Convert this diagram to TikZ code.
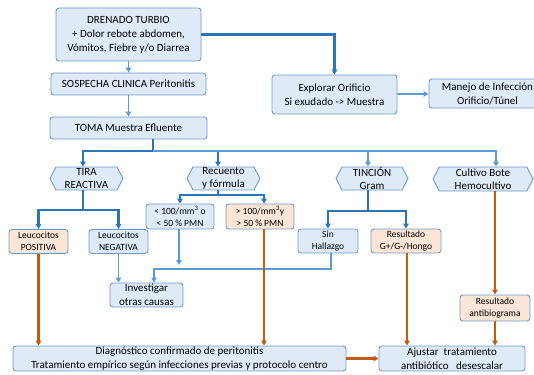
\documentclass[tikz,border=0pt]{standalone}
\usepackage{fontspec}
\setmainfont{Carlito}
\usetikzlibrary{arrows.meta,shapes.symbols}
\definecolor{boxfill}{HTML}{DEEBF7}
\definecolor{orfill}{HTML}{FBE5D6}
\definecolor{boxline}{HTML}{6F9BCB}
\definecolor{dkblue}{HTML}{2E75B6}
\definecolor{ltblue}{HTML}{5B9BD5}
\definecolor{orline}{HTML}{C55A11}
\begin{document}
\begin{tikzpicture}[x=1pt,y=-1pt,
  box/.style={draw=boxline, fill=boxfill, rounded corners=3pt, line width=0.9pt, align=center, inner sep=0pt, font=\fontsize{11}{14}\selectfont},
  sbox/.style={box, font=\fontsize{9.5}{12}\selectfont},
  obox/.style={sbox, fill=orfill},
  hex/.style={shape=signal, signal to=west and east, signal pointer angle=125, draw=boxline, fill=boxfill, line width=0.9pt, align=center, inner sep=0pt, font=\fontsize{11}{12.5}\selectfont},
  tip/.style={-{Triangle[length=5pt,width=5.5pt]}},
  dk/.style={draw=dkblue, line width=2.4pt},
  lt/.style={draw=ltblue, line width=1.8pt},
  orarr/.style={draw=orline, line width=2.3pt, tip}
]
\useasboundingbox (0,0) rectangle (534,374);
\begin{scope}
\clip (0,0) rectangle (534,374);
% top nodes
\node[box, minimum width=145, minimum height=53] (drenado) at (128.5,34.5) {DRENADO TURBIO\\+ Dolor rebote abdomen,\\Vómitos, Fiebre y/o Diarrea};
\node[box, minimum width=155, minimum height=22] (sospecha) at (128.5,84) {SOSPECHA CLINICA Peritonitis};
\node[box, minimum width=157, minimum height=22] (toma) at (128.5,128) {TOMA Muestra Efluente};
\node[box, minimum width=125, minimum height=39] (explorar) at (334.5,94.5) {Explorar Orificio\\Si exudado -> Muestra};
\node[box, minimum width=117, minimum height=29] (manejo) at (487.5,93.5) {Manejo de Infección\\Orificio/Túnel};
% hexagons
\node[hex, minimum width=73, minimum height=23] (tira) at (86.5,178.5) {TIRA\\REACTIVA};
\node[hex, minimum width=73, minimum height=23] (recuento) at (223.5,178.5) {Recuento\\y fórmula};
\node[hex, minimum width=72, minimum height=23] (tincion) at (372,178.5) {TINCIÓN\\Gram};
\node[hex, minimum width=100, minimum height=24] (cultivo) at (483,179) {Cultivo Bote\\Hemocultivo};
% second level
\node[obox, minimum width=59, minimum height=24] (positiva) at (38.5,241.5) {Leucocitos\\POSITIVA};
\node[sbox, minimum width=59, minimum height=24] (negativa) at (118.5,241.5) {Leucocitos\\NEGATIVA};
\node[sbox, minimum width=68, minimum height=25] (menor) at (180,216.5) {< 100/mm\textsuperscript{3} o\\< 50 \% PMN};
\node[obox, minimum width=68, minimum height=25] (mayor) at (260,216.5) {> 100/mm\textsuperscript{3}y\\> 50 \% PMN};
\node[sbox, minimum width=60, minimum height=24] (sin) at (328,241) {Sin\\Hallazgo};
\node[obox, minimum width=70, minimum height=24] (resultado) at (406,241) {Resultado\\G+/G-/Hongo};
\node[box, minimum width=73, minimum height=24] (investigar) at (146.5,295) {Investigar\\otras causas};
\node[obox, minimum width=70, minimum height=26] (antibio) at (495,308) {Resultado\\antibiograma};
\node[box, minimum width=333, minimum height=25] (diag) at (179.5,358.5) {Diagnóstico confirmado de peritonitis\\Tratamiento empírico según infecciones previas y protocolo centro};
\node[box, minimum width=146, minimum height=25] (ajustar) at (452,358.5) {Ajustar~ tratamiento\\antibiótico~~ desescalar};
% coordinates
\coordinate (bus) at (153,151);
\coordinate (tirab) at (83,210);
\coordinate (recb) at (218,195);
\coordinate (tinb) at (368,211);
\coordinate (jn) at (331,269);
% connectors top
\draw[dk, tip] (drenado.east) -| (explorar.north);
\draw[lt, tip] (drenado) -- (sospecha);
\draw[lt, tip] (sospecha) -- (toma);
\draw[lt, tip] (explorar) -- (manejo);
% bus
\draw[dk] (toma.south -| bus) -- (bus);
\draw[dk, tip] (bus) -| (tira.north -| tirab);
\draw[dk, tip] (bus) -| (recuento.north -| recb);
\draw[lt, tip] (bus) -| (tincion.north -| tinb);
\draw[lt, tip] (bus) -| ([xshift=13]cultivo.north);
% TIRA
\draw[dk] (tira.south -| tirab) -- (tirab);
\draw[dk, tip] (tirab) -| (positiva.north);
\draw[dk, tip] (tirab) -| (negativa.north);
% Recuento
\draw[dk] (recuento.south -| recb) -- (recb);
\draw[dk, tip] (recb) -| (menor.north);
\draw[dk, tip] (recb) -| (mayor.north -| 264,0);
% Tincion
\draw[dk] (tincion.south -| tinb) -- (tinb);
\draw[dk, tip] (tinb) -| (sin.north);
\draw[dk, tip] (tinb) -| (resultado.north);
% to investigar
\draw[lt, tip] (negativa) -- (investigar.north -| negativa);
\draw[lt, tip] (menor.south -| 179,0) -- (179,265);
\draw[lt, tip] (sin.south -| jn) -- (jn) -| (investigar.north -| 154,0);
% orange
\draw[orarr] (positiva) -- (diag.north -| positiva);
\draw[orarr] (mayor.south -| 264,0) -- (diag.north -| 264,0);
\draw[orarr] (resultado.south -| 407,0) -- (ajustar.north -| 407,0);
\draw[orarr] ([xshift=12]cultivo.south) -- (antibio);
\draw[orarr] (antibio) -- (ajustar.north -| antibio);
\draw[orarr] (diag) -- (ajustar);
\end{scope}
\end{tikzpicture}
\end{document}
